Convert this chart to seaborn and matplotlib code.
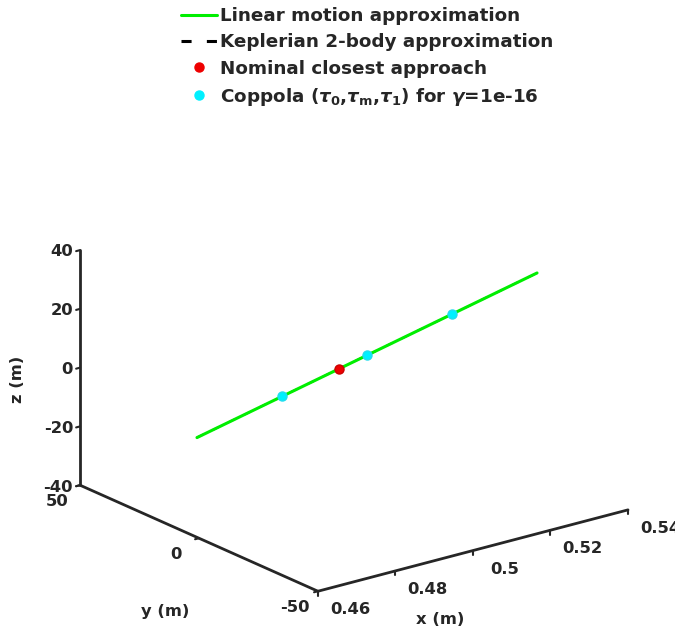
import itertools
import numpy as np
import matplotlib
matplotlib.use("Agg")
import matplotlib.pyplot as plt
import seaborn as sns
from matplotlib.lines import Line2D

# trajectory of the secondary relative to the primary
lin_x = [0.476, 0.532]
lin_y = [26.9, -24.8]
lin_z = [-21.0, 34.3]
kep_x = [0.476, 0.532]
kep_y = [26.9, -24.8]
kep_z = [-21.0, 34.3]
tca_x = [0.4994]
tca_y = [5.3]
tca_z = [2.1]
cop_x = [0.490, 0.504, 0.518]
cop_y = [14.0, 1.05, -11.9]
cop_z = [-7.2, 6.65, 20.5]

x_ticks = [0.46, 0.48, 0.5, 0.52, 0.54]
x_labels = ["0.46", "0.48", "0.5", "0.52", "0.54"]
y_ticks = [-50, 0, 50]
y_labels = ["-50", "0", "50"]
z_ticks = [-40, -20, 0, 20, 40]
z_labels = ["-40", "-20", "0", "20", "40"]
xlim, ylim, zlim = (0.46, 0.54), (-50, 50), (-40, 40)

sns.set_theme(style="white")
plt.rcParams["font.family"] = ["DejaVu Sans"]
plt.rcParams["font.weight"] = "bold"
plt.rcParams["mathtext.fontset"] = "custom"
plt.rcParams["mathtext.rm"] = "DejaVu Sans:bold"
plt.rcParams["mathtext.bf"] = "DejaVu Sans:bold"
plt.rcParams["mathtext.it"] = "DejaVu Sans:italic"

green, cyan, red, axcol = "#00ee00", "#00f0ff", "#ee0000", "#262626"
fs = 11.8

fig = plt.figure(figsize=(6.75, 6.28), dpi=100)
ax = fig.add_subplot(projection="3d", proj_type="ortho")
ax.computed_zorder = False
ax.set_axis_off()
ax.set_xlim(*xlim)
ax.set_ylim(*ylim)
ax.set_zlim(*zlim)
ax.set_box_aspect((1, 1, 0.64))
ax.view_init(elev=20, azim=-127.5)

# hand-made MATLAB style axis lines
x0, x1 = xlim
y0, y1 = ylim
z0, z1 = zlim
ax.plot([x0, x0], [y1, y1], [z0, z1], color=axcol, lw=2, zorder=1)
ax.plot([x0, x0], [y1, y0], [z0, z0], color=axcol, lw=2, zorder=1)
ax.plot([x0, x1], [y0, y0], [z0, z0], color=axcol, lw=2, zorder=1)
for t in z_ticks:
    ax.plot([x0, x0 - 0.001], [y1, y1], [t, t], color=axcol, lw=1.5)
for t in y_ticks:
    ax.plot([x0, x0 - 0.001], [t, t], [z0, z0], color=axcol, lw=1.5)
for t in x_ticks:
    ax.plot([t, t], [y0, y0], [z0, z0 - 1.5], color=axcol, lw=1.5)

kep_dash = (3.6, 5.4)
ax.plot(kep_x, kep_y, kep_z, color="black", lw=1.4, dashes=kep_dash, zorder=2)
ax.plot(lin_x, lin_y, lin_z, color=green, lw=2.2, zorder=3)
ax.plot(tca_x, tca_y, tca_z, "o", color=red, mec="#cc0000", ms=6.5, zorder=4)
ax.plot(cop_x, cop_y, cop_z, "o", color=cyan, mec="#22ddee", ms=6.5, zorder=5)

handles = [
    Line2D([], [], color=green, lw=2.2),
    Line2D([], [], color="black", lw=2.2, dashes=(3.3, 5.0)),
    Line2D([], [], color=red, marker="o", ls="none", ms=6.5),
    Line2D([], [], color=cyan, marker="o", ls="none", ms=6.5),
]
labels = [
    "Linear motion approximation",
    "Keplerian 2-body approximation",
    "Nominal closest approach",
    r"Coppola ($\tau_0$,$\tau_{\rm m}$,$\tau_1$) for $\gamma$=1e-16",
]
fig.legend(handles, labels, loc="upper left", bbox_to_anchor=(181 / 675, 1 - 7 / 628),
           frameon=False, prop={"weight": "bold", "size": 13.2}, handlelength=1.95,
           handletextpad=0.2, labelspacing=0.45, borderpad=0, borderaxespad=0)

# fit the projected box to where MATLAB drew it
W, H = 675, 628
target_w, target_cx, target_cy = 548, 354, H - 380
corners = np.array(list(itertools.product(xlim, ylim, zlim)), dtype=float).T
for _ in range(3):
    fig.canvas.draw()
    M = ax.get_proj()
    v = M @ np.vstack([corners, np.ones(corners.shape[1])])
    pts = ax.transData.transform(np.column_stack([v[0] / v[3], v[1] / v[3]]))
    s = target_w / np.ptp(pts[:, 0])
    bb = ax.get_position()
    l, b, w, h = bb.x0 * W, bb.y0 * H, bb.width * W, bb.height * H
    dx = (pts[:, 0].min() + pts[:, 0].max()) / 2 - (l + w / 2)
    dy = (pts[:, 1].min() + pts[:, 1].max()) / 2 - (b + h / 2)
    nw, nh = w * s, h * s
    ncx, ncy = target_cx - dx * s, target_cy - dy * s
    ax.set_position([(ncx - nw / 2) / W, (ncy - nh / 2) / H, nw / W, nh / H])

M = ax.get_proj()


def put(x, y, z, s, **kw):
    v = M @ np.array([x, y, z, 1.0])
    ax.text2D(v[0] / v[3], v[1] / v[3], s, transform=ax.transData,
              fontsize=fs, fontweight="bold", color=axcol, **kw)


for t, lab in zip(z_ticks, z_labels):
    put(x0 - 0.0018, y1, t, lab, ha="right", va="center")
for t, lab in zip(y_ticks, y_labels):
    put(x0 - 0.006, t, z0 - 3.5, lab, ha="center", va="center")
for t, lab in zip(x_ticks, x_labels):
    put(t, y0 - 13.5, z0 - 1.5, lab, ha="center", va="center")

put(0.49, y0 - 2.5, z0 - 19, "x (m)", ha="center", va="center")
put(x0 - 0.0088, 0, z0 - 22, "y (m)", ha="center", va="center")
put(x0 - 0.016, y1, 1.5, "z (m)", ha="center", va="center", rotation=90)

fig.savefig("out.png", dpi=100)
